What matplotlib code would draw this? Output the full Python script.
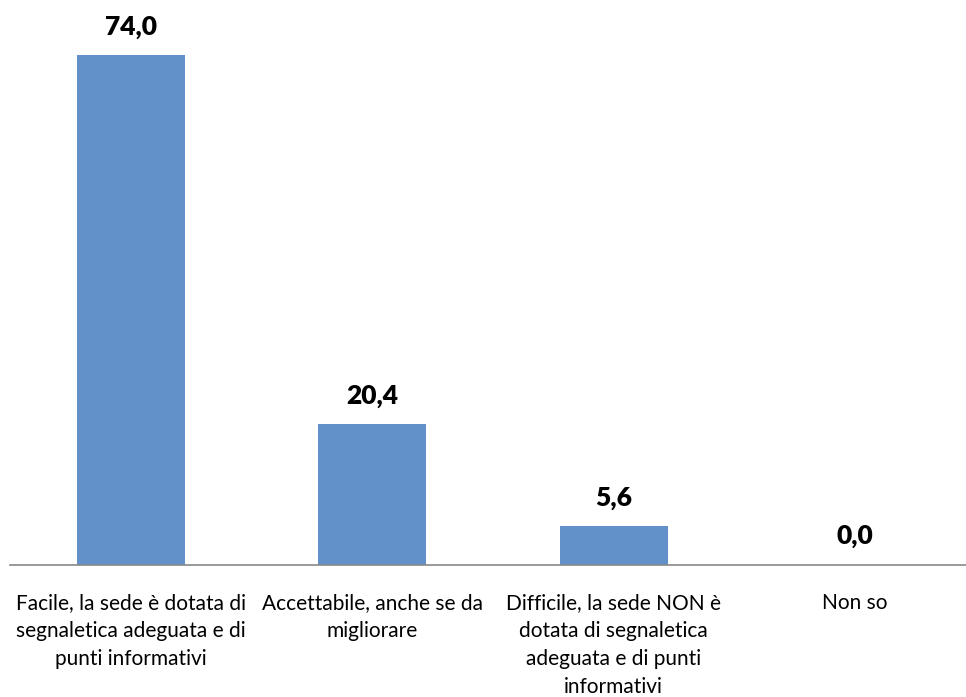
import matplotlib
matplotlib.use("Agg")
import matplotlib.pyplot as plt
import numpy as np

categories = [
    "Facile, la sede è dotata di\nsegnaletica adeguata e di\npunti informativi",
    "Accettabile, anche se da\nmigliorare",
    "Difficile, la sede NON è\ndotata di segnaletica\nadeguata e di punti\ninformativi",
    "Non so",
]
values = [74.0, 20.4, 5.6, 0.0]

plt.rcParams['font.family'] = ['Lato', 'DejaVu Sans']

fig = plt.figure(figsize=(9.66, 6.97), dpi=100)
ax = fig.add_axes([10 / 966, 0.1894, 966 / 966, 0.7905])

x = np.arange(len(values))
ax.bar(x, values, width=0.447, color="#6290C8", zorder=2)

for xi, v in zip(x, values):
    ax.annotate("{:.1f}".format(v).replace(".", ","), (xi, v),
                xytext=(0, 12), textcoords="offset points",
                ha="center", va="bottom", fontsize=19, fontweight="heavy",
                color="black")

ax.set_xlim(-0.5, 3.5)
ax.set_ylim(0, 80)

for s in ["top", "right", "left"]:
    ax.spines[s].set_visible(False)
ax.spines["bottom"].set_color("#888888")
ax.spines["bottom"].set_linewidth(1.2)

ax.set_yticks([])
ax.set_xticks(x)
ax.set_xticklabels(categories, fontsize=15, linespacing=1.5)
ax.tick_params(axis="x", length=0, pad=20)

fig.savefig("out.png", dpi=100)
